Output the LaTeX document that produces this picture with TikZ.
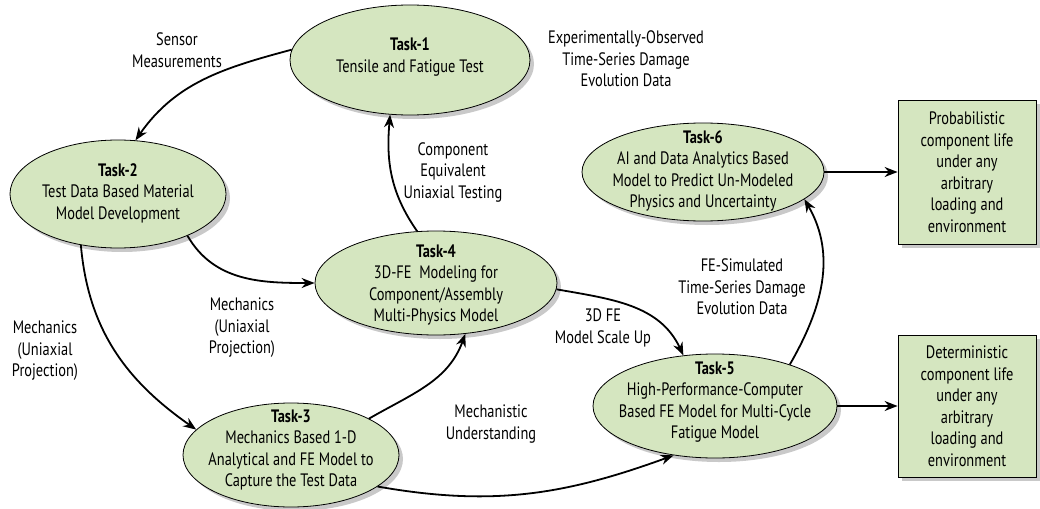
\documentclass[tikz,border=0pt]{standalone}
\usepackage{fontspec}
\setmainfont{PT Sans}[FakeStretch=0.8]
\usetikzlibrary{shapes.geometric,arrows.meta,shadows}
\definecolor{taskgreen}{RGB}{213,230,192}
\begin{document}
\begin{tikzpicture}[x=1pt,y=1pt,
  shad/.style={drop shadow={shadow xshift=4pt,shadow yshift=-4pt,opacity=0.3,fill=black!70}},
  task/.style={ellipse, draw=black, line width=0.8pt, fill=taskgreen, inner sep=0pt, shad},
  txt/.style={align=center, font=\fontsize{18}{21.5}\selectfont, inner sep=0pt},
  outbox/.style={rectangle, draw=black, line width=0.8pt, fill=taskgreen, minimum width=138pt, inner sep=0pt, shad},
  arr/.style={-{Stealth[length=13pt,width=10pt]}, line width=1.8pt}
]
\useasboundingbox (0,0) rectangle (1040,-508);

% task ellipses
\node[task, minimum width=240pt, minimum height=110pt] (t1) at (410,-60) {};
\node[txt] (t1t) at (410,-57) {\textbf{Task-1}\\Tensile and Fatigue Test};

\node[task, minimum width=216pt, minimum height=108pt] (t2) at (118,-194) {};
\node[txt] (t2t) at (118,-193) {\textbf{Task-2}\\Test Data Based Material\\Model Development};

\node[task, minimum width=242pt, minimum height=104pt] (t4) at (436,-283) {};
\node[txt] (t4t) at (436,-285) {\textbf{Task-4}\\3D-FE\ \ Modeling for\\Component/Assembly\\Multi-Physics Model};

\node[task, minimum width=216pt, minimum height=104pt] (t3) at (291,-455) {};
\node[txt] (t3t) at (291,-450) {\textbf{Task-3}\\Mechanics Based 1-D\\Analytical and FE Model to\\Capture the Test Data};

\node[task, minimum width=244pt, minimum height=104pt] (t5) at (715,-406) {};
\node[txt] (t5t) at (715,-402) {\textbf{Task-5}\\High-Performance-Computer\\Based FE Model for Multi-Cycle\\Fatigue Model};

\node[task, minimum width=242pt, minimum height=98pt] (t6) at (703,-172) {};
\node[txt] (t6t) at (703,-171) {\textbf{Task-6}\\AI and Data Analytics Based\\Model to Predict Un-Modeled\\Physics and Uncertainty};

% output boxes
\node[outbox, minimum height=144pt] (b1) at (967,-172) {};
\node[txt] (b1t) at (967,-172) {Probabilistic\\component life\\under any\\arbitrary\\loading and\\environment};
\node[outbox, minimum height=142pt] (b2) at (967,-406) {};
\node[txt] (b2t) at (967,-406) {Deterministic\\component life\\under any\\arbitrary\\loading and\\environment};

% labels
\node[txt] (l1) at (177,-50) {Sensor\\Measurements};
\node[txt] (l2) at (626,-59) {Experimentally-Observed\\Time-Series Damage\\Evolution Data};
\node[txt] (l3) at (453,-172) {Component\\Equivalent\\Uniaxial Testing};
\node[txt] (l4) at (242,-328) {Mechanics\\(Uniaxial\\Projection)};
\node[txt] (l5) at (45,-351) {Mechanics\\(Uniaxial\\Projection)};
\node[txt] (l6) at (603,-328) {3D FE\\Model Scale Up};
\node[txt] (l7) at (491,-424) {Mechanistic\\Understanding};
\node[txt] (l8) at (742,-287) {FE-Simulated\\Time-Series Damage\\Evolution Data};

% connectors
\draw[arr] (t1.175) to[out=195,in=55] (t2.72);
\draw[arr] (t2.-31) to[out=-60,in=180] (t4.west);
\draw[arr] (t2.234) to[out=-85,in=145] (t3.165);
\draw[arr] (t4.110) to[out=125,in=-95] (t1.250);
\draw[arr] (t3.25) to[out=30,in=-110] (t4.-60);
\draw[arr] (t3.-20) to[out=-10,in=200] (t5.230);
\draw[arr] (t4.-3) to[out=-10,in=115] (t5.122);
\draw[arr] (t5.29) to[out=60,in=-60] (t6.-15);
\draw[arr] (t6.east) -- (b1.west);
\draw[arr] (t5.east) -- (b2.west);
\end{tikzpicture}
\end{document}
